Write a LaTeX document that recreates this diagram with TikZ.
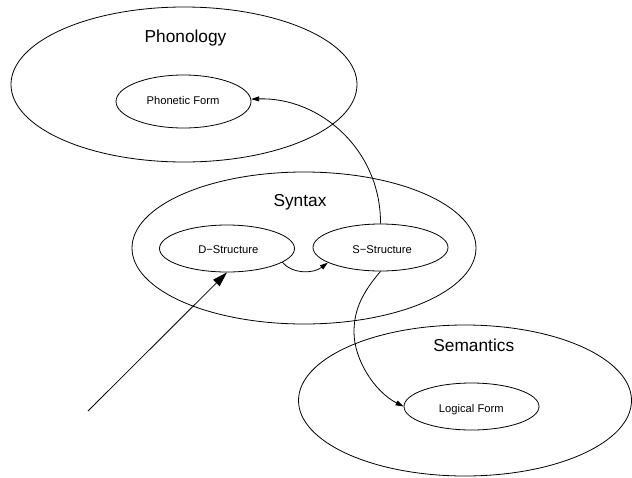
\documentclass[tikz,border=0pt]{standalone}
\usepackage{fontspec}
\setmainfont{Liberation Sans}
\usetikzlibrary{shapes.geometric,arrows.meta}

\begin{document}
\begin{tikzpicture}[x=1pt,y=-1pt,
  modulebox/.style={draw, ellipse, line width=0.8pt, inner sep=0pt},
  levelbox/.style={draw, ellipse, line width=0.8pt, inner sep=0pt,
    minimum width=135pt, minimum height=47pt},
  titletext/.style={font=\fontsize{17.3}{20}\selectfont, anchor=base, inner sep=0pt},
  leveltext/.style={font=\fontsize{11.2}{13}\selectfont, anchor=base, inner sep=0pt},
  linkarrow/.style={line width=0.8pt, -{Triangle[length=8pt,width=5pt]}},
  entryarrow/.style={line width=0.8pt, -{Triangle[length=15pt,width=9pt]}}]

\useasboundingbox (0,0) rectangle (632,477);

% outer modules
\node[modulebox, minimum width=346pt, minimum height=155pt] (phon) at (184,84.5) {};
\node[modulebox, minimum width=344pt, minimum height=152pt] (syn) at (304,248) {};
\node[modulebox, minimum width=333pt, minimum height=151pt] (sem) at (465,400.5) {};

% levels of representation
\node[levelbox, minimum height=53pt] (pf) at (183.5,101.5) {};
\node[levelbox] (ds) at (227,248.5) {};
\node[levelbox] (ss) at (380.5,247.5) {};
\node[levelbox] (lf) at (471.5,406.5) {};

% labels
\node[titletext] (phon-t) at (185.5,42.3) {Phonology};
\node[titletext] (syn-t) at (300,206) {Syntax};
\node[titletext] (sem-t) at (473.8,351.7) {Semantics};

\node[leveltext] (pf-t) at (183,104.3) {Phonetic Form};
\node[leveltext] (ds-t) at (228.3,253.3) {D−Structure};
\node[leveltext] (ss-t) at (382.2,253) {S−Structure};
\node[leveltext] (lf-t) at (471.3,412.3) {Logical Form};

% derivation
\coordinate (input) at (88,411);
\coordinate (bend) at (354,332);

\draw[entryarrow] (input) -- (ds.south);
\draw[linkarrow] (ds.-14) .. controls (292,274) and (313,274) .. (ss.196);
\draw[linkarrow] (ss.north) .. controls (381,150) and (320,97) .. (pf.2);
\draw[linkarrow] (ss.south) .. controls (362,293) and (354,310) .. (bend)
  .. controls (354,360) and (375,392) .. (lf.west);

\end{tikzpicture}
\end{document}
